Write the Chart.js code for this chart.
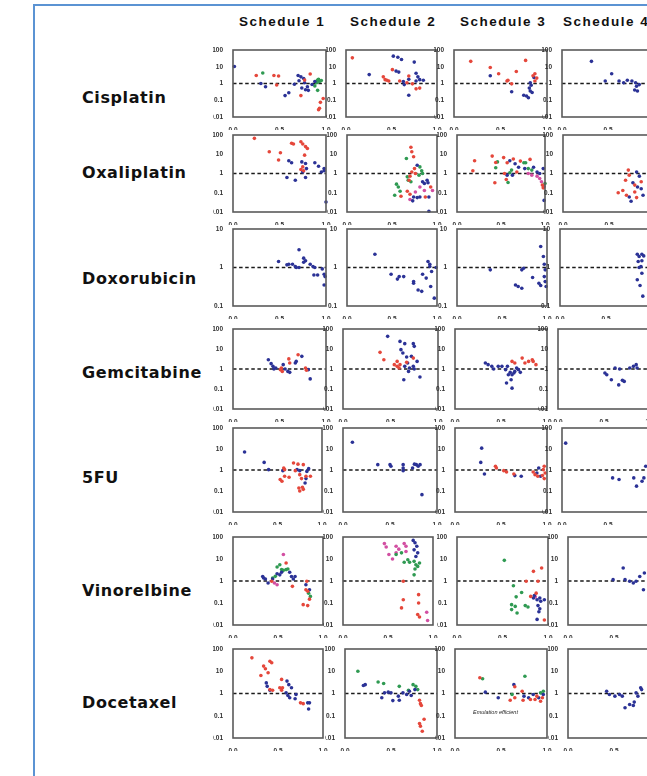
<!DOCTYPE html>
<html><head><meta charset="utf-8">
<script src="https://cdn.jsdelivr.net/npm/chart.js@4"></script>
<style>
html,body{margin:0;padding:0;width:647px;height:776px;overflow:hidden;background:#fff;}
#frame{position:absolute;left:33px;top:4px;width:720px;height:820px;border-left:2px solid #5b93d3;border-top:2px solid #5b93d3;}
.drug{position:absolute;left:82px;font:bold 16px "DejaVu Sans";letter-spacing:0.6px;color:#111;transform:translateY(-50%);white-space:nowrap;}
.sched{position:absolute;top:14px;font:bold 13.5px "Liberation Sans";letter-spacing:1.5px;color:#111;white-space:nowrap;}
canvas{position:absolute;}
.note{position:absolute;font:italic 5.5px "Liberation Sans";color:#222;white-space:nowrap;}
</style></head><body>
<div id="frame"></div>
<script>
// ---------------- data ----------------
const drugs = ["Cisplatin","Oxaliplatin","Doxorubicin","Gemcitabine","5FU","Vinorelbine","Docetaxel"];
const schedules = ["Schedule 1","Schedule 2","Schedule 3","Schedule 4"];
const xTickValues = [0, 0.5, 1];
const xTickLabels = ["0.0","0.5","1.0"];
const yTicksWide = [0.01, 0.1, 1, 10, 100];
const yTickLabelsWide = ["0.01","0.1","1","10","100"];
const yTicksNarrow = [0.1, 1, 10];
const yTickLabelsNarrow = ["0.1","1","10"];
const refRatio = 1;
const noteText = "Emulation efficient";

const cis_s1_blue = [[0.015,10.4],[0.30,1.0],[0.35,0.64],[0.56,0.19],[0.60,0.28],[0.70,3.0],[0.73,2.5],[0.76,2.0],[0.71,1.45],[0.74,0.54],[0.78,0.42],[0.80,0.64],[0.81,0.39],[0.85,0.88],[0.88,1.33],[0.66,0.9],[0.77,1.1]];
const cis_s1_red = [[0.25,3.0],[0.44,3.0],[0.49,2.8],[0.47,0.81],[0.73,0.19],[0.83,3.7],[0.77,1.6],[0.97,0.128],[0.94,0.075],[0.93,0.033],[0.92,0.027]];
const cis_s1_green = [[0.32,4.2],[0.89,1.33],[0.91,1.6],[0.93,1.33],[0.88,0.72],[0.91,0.39],[0.92,1.8],[0.95,1.5],[0.90,1.1]];
const cis_s2_red = [[0.07,34],[0.51,6.7],[0.41,2.5],[0.45,1.55],[0.47,1.4],[0.43,1.7],[0.59,1.4],[0.67,1.1],[0.69,2.8],[0.77,0.48],[0.81,0.53],[0.73,0.95]];
const cis_s2_blue = [[0.255,3.4],[0.52,43],[0.57,37],[0.61,27],[0.75,19],[0.55,5.5],[0.58,4.8],[0.63,1.3],[0.64,0.86],[0.69,1.8],[0.77,4.1],[0.79,2.5],[0.81,1.7],[0.85,1.55],[0.77,1.4],[0.69,0.2]];
const cis_s3_red = [[0.18,21],[0.39,9.1],[0.48,3.8],[0.57,1.4],[0.58,1.55],[0.67,5.2],[0.77,24],[0.62,0.95],[0.85,2.9],[0.87,3.8],[0.89,2.1],[0.87,1.4]];
const cis_s3_blue = [[0.39,2.9],[0.82,1.1],[0.81,0.53],[0.82,0.36],[0.84,0.29],[0.78,0.18],[0.75,0.2],[0.80,0.14],[0.62,0.32],[0.86,2.3],[0.83,0.78]];
const cis_s4_blue = [[0.32,21],[0.54,3.8],[0.47,1.4],[0.62,1.4],[0.71,1.55],[0.76,1.4],[0.80,1.1],[0.81,0.68],[0.79,0.41],[0.82,0.36],[0.84,0.86],[0.67,1.1]];

const oxa_s1_red = [[0.23,67],[0.39,13.5],[0.51,12],[0.49,5],[0.63,37],[0.65,34],[0.73,45],[0.75,34],[0.78,25],[0.80,20],[0.77,9],[0.75,2.2],[0.73,1.6],[0.76,1.4]];
const oxa_s1_blue = [[0.60,4.6],[0.63,3.6],[0.74,4.0],[0.78,3.3],[0.88,3.6],[0.92,2.4],[0.98,1.8],[0.95,1.2],[0.98,1.4],[0.58,0.62],[0.67,0.45],[0.78,0.62],[0.75,1.2],[0.79,1.8],[1.0,0.033]];
const oxa_s2_red = [[0.71,23],[0.72,13.5],[0.74,7.4],[0.72,1.2],[0.75,1.8],[0.76,1.0],[0.70,0.73],[0.69,0.45],[0.60,0.066],[0.67,0.12],[0.70,0.083],[0.93,0.2],[0.87,0.06]];
const oxa_s2_green = [[0.66,6],[0.81,2.2],[0.83,1.4],[0.84,1.0],[0.80,0.82],[0.67,0.67],[0.68,0.45],[0.71,0.37],[0.55,0.28],[0.57,0.2],[0.53,0.074],[0.59,0.12]];
const oxa_s2_blue = [[0.78,2.7],[0.84,0.37],[0.86,0.3],[0.89,0.45],[0.90,0.33],[0.74,0.06],[0.73,0.038],[0.78,0.056],[0.81,0.06],[0.91,0.06],[0.91,0.011]];
const oxa_s2_pink = [[0.95,0.13],[0.81,0.2],[0.86,0.13],[0.70,0.045],[0.76,0.11]];
const oxa_s3_red = [[0.20,4.6],[0.18,1.4],[0.40,8],[0.44,3.7],[0.43,0.33],[0.53,6.7],[0.57,3.6],[0.64,5.7],[0.54,1.0],[0.56,0.49],[0.68,1.2],[0.72,4.4],[0.83,5.4],[0.97,0.25],[0.98,0.18]];
const oxa_s3_green = [[0.46,4],[0.44,2],[0.58,0.34],[0.62,1.5],[0.60,1.1],[0.76,3.6],[0.78,3.6],[0.81,1.8],[0.85,1.5],[1.0,0.3]];
const oxa_s3_blue = [[0.60,4.6],[0.66,3.2],[0.57,0.82],[0.63,0.82],[0.70,2.1],[0.77,1.8],[0.87,2.1],[0.91,1.2],[0.94,1.0],[0.98,1.8],[0.99,0.04]];
const oxa_s3_pink = [[0.81,1.0],[0.85,0.82],[0.91,0.73],[0.94,0.55],[0.96,0.37],[0.99,0.21]];
const oxa_s4_red = [[0.71,1.5],[0.72,0.82],[0.68,0.45],[0.78,0.25],[0.85,0.37],[0.60,0.1],[0.65,0.13],[0.69,0.074],[0.78,0.11],[0.80,0.056]];
const oxa_s4_blue = [[0.80,1.2],[0.83,0.73],[0.76,0.33],[0.81,0.2],[0.72,0.06],[0.74,0.036],[0.85,0.16],[0.87,0.074]];

const dox_s1_blue = [[0.49,1.43],[0.58,1.17],[0.60,1.22],[0.64,1.22],[0.68,1.0],[0.71,1.0],[0.67,1.06],[0.71,2.9],[0.76,1.75],[0.78,1.5],[0.76,1.37],[0.83,1.22],[0.86,1.06],[0.88,1.0],[0.87,0.64],[0.91,0.64],[0.96,0.92],[0.98,0.67],[0.99,0.58],[0.98,0.35]];
const dox_s2_blue = [[0.31,2.2],[0.49,0.67],[0.56,0.5],[0.58,0.58],[0.63,0.58],[0.74,0.43],[0.74,0.39],[0.79,0.26],[0.83,0.24],[0.84,0.67],[0.88,0.53],[0.90,1.43],[0.92,1.22],[0.92,1.06],[0.94,0.79],[0.99,1.0],[0.93,0.32],[0.97,0.16]];
const dox_s3_blue = [[0.37,0.87],[0.72,0.87],[0.74,0.96],[0.65,0.35],[0.68,0.32],[0.72,0.29],[0.84,0.55],[0.91,0.39],[0.93,0.34],[0.93,3.5],[0.96,1.93],[0.97,1.22],[0.98,0.87],[0.97,0.58],[0.98,0.43],[0.99,0.32]];
const dox_s4_blue = [[0.84,2.2],[0.86,1.93],[0.89,2.2],[0.91,2.0],[0.85,1.43],[0.89,1.5],[0.88,1.06],[0.86,1.0],[0.84,0.48],[0.89,0.71],[0.87,0.34],[0.90,0.18]];

const gem_s1_blue = [[0.38,2.9],[0.41,1.85],[0.44,1.0],[0.46,1.12],[0.43,1.36],[0.54,1.65],[0.56,1.0],[0.59,0.76],[0.61,0.68],[0.67,2.0],[0.68,2.4],[0.74,4.3],[0.81,0.93],[0.83,0.32]];
const gem_s1_red = [[0.51,0.93],[0.53,0.76],[0.52,1.12],[0.60,3.2],[0.61,2.0],[0.70,5.2],[0.78,1.12],[0.79,0.86]];
const gem_s2_blue = [[0.47,43],[0.60,24],[0.65,18.5],[0.74,18.5],[0.75,13.6],[0.61,9.3],[0.63,6.3],[0.67,4],[0.72,4.3],[0.65,1.36],[0.68,2.0],[0.70,1.12],[0.69,0.76],[0.78,2.4],[0.74,1.36],[0.75,1.0],[0.64,0.29],[0.81,0.4]];
const gem_s2_red = [[0.39,6.8],[0.43,2.9],[0.67,2.15],[0.74,3.5],[0.57,2.4],[0.54,1.65],[0.57,1.36],[0.60,1.65],[0.59,1.12]];
const gem_s3_blue = [[0.33,2.0],[0.36,1.65],[0.40,1.36],[0.42,1.0],[0.47,1.36],[0.51,1.36],[0.55,0.93],[0.57,1.36],[0.60,0.68],[0.62,0.52],[0.64,0.63],[0.58,0.52],[0.56,0.2],[0.61,0.29],[0.62,0.11],[0.67,1.12],[0.71,0.68],[0.65,0.76],[0.69,0.93]];
const gem_s3_red = [[0.62,2.4],[0.65,2.0],[0.73,3.5],[0.76,2.0],[0.80,2.4],[0.84,2.9],[0.85,2.4],[0.88,1.65]];
const gem_s4_blue = [[0.51,0.63],[0.53,0.52],[0.58,0.29],[0.66,0.16],[0.70,0.27],[0.72,0.24],[0.78,1.12],[0.82,1.36],[0.85,1.65],[0.86,1.12],[0.62,1.12],[0.67,1.0]];

const fu_s1_blue = [[0.13,7.2],[0.35,2.3],[0.40,1.04],[0.56,0.93],[0.72,1.04],[0.75,0.93],[0.85,1.16],[0.83,0.86],[0.81,0.24],[0.82,0.39]];
const fu_s1_red = [[0.57,1.25],[0.58,1.04],[0.53,0.35],[0.55,0.29],[0.58,0.5],[0.63,0.45],[0.68,2.15],[0.73,1.9],[0.70,0.93],[0.79,1.8],[0.75,0.6],[0.77,0.39],[0.82,0.5],[0.87,0.5],[0.74,0.14],[0.75,0.1],[0.78,0.15],[0.79,0.12]];
const fu_s2_blue = [[0.10,21],[0.37,1.8],[0.50,1.8],[0.51,1.5],[0.64,1.8],[0.64,1.25],[0.64,0.93],[0.74,1.25],[0.76,1.9],[0.78,1.8],[0.80,1.5],[0.82,1.8],[0.84,0.067]];
const fu_s3_blue = [[0.29,11],[0.28,2.3],[0.32,0.65],[0.65,0.54],[0.72,0.5],[0.89,0.72],[0.91,1.25],[0.93,0.5]];
const fu_s3_red = [[0.44,1.5],[0.45,1.25],[0.53,0.93],[0.56,0.8],[0.64,0.65],[0.85,0.8],[0.87,0.6],[0.90,0.5],[0.96,1.04],[0.97,1.5],[0.98,0.72],[0.97,0.39],[0.95,0.55]];
const fu_s4_blue = [[0.04,19],[0.55,0.42],[0.62,0.35],[0.78,0.42],[0.81,0.17],[0.87,0.29],[0.89,0.42],[0.91,1.5]];

const vin_s1_blue = [[0.33,1.6],[0.36,1.23],[0.34,1.37],[0.39,0.81],[0.44,1.23],[0.52,1.9],[0.54,2.5],[0.49,2.15],[0.63,2.5],[0.65,1.6],[0.67,1.23],[0.69,1.6],[0.81,0.68],[0.85,0.4]];
const vin_s1_red = [[0.43,0.97],[0.59,6.6],[0.66,0.57],[0.82,0.97],[0.81,0.4],[0.83,0.34],[0.78,0.084],[0.83,0.076],[0.85,0.15]];
const vin_s1_green = [[0.44,1.37],[0.47,1.63],[0.49,4.3],[0.52,5.5],[0.54,3.3],[0.56,3.05],[0.59,3.3],[0.61,3.5],[0.84,0.28],[0.86,0.2]];
const vin_s1_pink = [[0.46,0.81],[0.49,0.68],[0.56,16]];
const vin_s2_pink = [[0.46,50],[0.48,35],[0.51,16],[0.55,10],[0.59,38],[0.62,28],[0.59,19],[0.68,50],[0.70,38],[0.70,22],[0.93,0.038],[0.94,0.016]];
const vin_s2_green = [[0.59,16],[0.65,19],[0.68,7.1],[0.72,9.3],[0.74,7.1],[0.79,7.8],[0.81,5.5],[0.83,4.6],[0.85,6.6],[0.80,3.5],[0.79,1.9]];
const vin_s2_blue = [[0.78,70],[0.80,55],[0.82,38],[0.79,26],[0.83,19],[0.81,13]];
const vin_s2_red = [[0.67,0.97],[0.67,0.14],[0.65,0.06],[0.84,0.24],[0.83,0.03],[0.85,0.023],[0.84,0.1]];
const vin_s3_green = [[0.52,8.7],[0.62,0.61],[0.71,0.3],[0.65,0.19],[0.60,0.084],[0.60,0.05],[0.64,0.07],[0.66,0.035],[0.75,0.076],[0.78,0.066]];
const vin_s3_red = [[0.84,2.75],[0.93,3.9],[0.76,0.97],[0.89,0.97],[0.81,0.2],[0.87,0.28],[0.96,0.017]];
const vin_s3_blue = [[0.84,0.17],[0.85,0.22],[0.88,0.14],[0.91,0.17],[0.92,0.12],[0.96,0.14],[0.89,0.076],[0.91,0.055],[0.90,0.04],[0.88,0.018]];
const vin_s3_pink = [[0.86,0.19]];
const vin_s4_blue = [[0.60,3.9],[0.62,1.15],[0.49,1.15],[0.67,0.97],[0.71,0.81],[0.74,0.97],[0.82,0.4],[0.78,1.6],[0.83,2.3]];

const doc_s1_red = [[0.21,40],[0.31,6.4],[0.34,17],[0.36,13],[0.39,8.5],[0.41,28],[0.43,24],[0.41,1.5],[0.44,1.4],[0.54,4.3],[0.52,1.8],[0.55,1.8],[0.54,1.4],[0.75,0.38],[0.78,0.35]];
const doc_s1_blue = [[0.37,3.0],[0.38,2.1],[0.41,1.4],[0.59,1.07],[0.61,0.81],[0.63,0.64],[0.60,3.6],[0.62,2.5],[0.65,1.8],[0.69,0.58],[0.70,0.9],[0.83,0.38],[0.85,0.38],[0.84,0.2]];
const doc_s2_green = [[0.14,10],[0.36,3.3],[0.42,2.8],[0.59,2.1],[0.69,1.4],[0.74,2.5],[0.77,2.1],[0.79,1.5]];
const doc_s2_blue = [[0.22,2.5],[0.20,2.3],[0.40,0.64],[0.43,1.07],[0.47,1.15],[0.50,1.07],[0.52,0.48],[0.58,0.76],[0.59,0.5],[0.63,1.07],[0.67,0.9],[0.70,1.27],[0.72,0.81],[0.76,1.5]];
const doc_s2_red = [[0.81,0.5],[0.82,0.35],[0.83,0.29],[0.81,0.045],[0.82,0.034],[0.84,0.02],[0.86,0.07]];
const doc_s3_red = [[0.27,5.1],[0.65,2.0],[0.60,0.5],[0.65,0.64],[0.73,1.27],[0.74,0.5],[0.82,0.54],[0.87,0.54],[0.89,0.76],[0.93,0.45],[0.95,0.64]];
const doc_s3_green = [[0.30,4.6],[0.62,0.9],[0.76,6.0],[0.93,1.07],[0.96,1.27]];
const doc_s3_blue = [[0.33,1.15],[0.47,0.64],[0.64,2.5],[0.75,0.76],[0.80,0.64],[0.85,0.9],[0.91,0.64],[0.96,0.9]];
const doc_s4_blue = [[0.42,1.27],[0.45,0.9],[0.51,0.76],[0.56,0.9],[0.59,0.76],[0.62,0.23],[0.67,0.32],[0.71,0.29],[0.72,0.41],[0.74,1.07],[0.76,0.76],[0.79,1.8],[0.80,1.5]];

const panels = [
  [{blue:cis_s1_blue,red:cis_s1_red,green:cis_s1_green},{red:cis_s2_red,blue:cis_s2_blue},{red:cis_s3_red,blue:cis_s3_blue},{blue:cis_s4_blue}],
  [{red:oxa_s1_red,blue:oxa_s1_blue},{red:oxa_s2_red,green:oxa_s2_green,blue:oxa_s2_blue,pink:oxa_s2_pink},{red:oxa_s3_red,green:oxa_s3_green,blue:oxa_s3_blue,pink:oxa_s3_pink},{red:oxa_s4_red,blue:oxa_s4_blue}],
  [{blue:dox_s1_blue},{blue:dox_s2_blue},{blue:dox_s3_blue},{blue:dox_s4_blue}],
  [{blue:gem_s1_blue,red:gem_s1_red},{blue:gem_s2_blue,red:gem_s2_red},{blue:gem_s3_blue,red:gem_s3_red},{blue:gem_s4_blue}],
  [{blue:fu_s1_blue,red:fu_s1_red},{blue:fu_s2_blue},{blue:fu_s3_blue,red:fu_s3_red},{blue:fu_s4_blue}],
  [{blue:vin_s1_blue,red:vin_s1_red,green:vin_s1_green,pink:vin_s1_pink},{pink:vin_s2_pink,green:vin_s2_green,blue:vin_s2_blue,red:vin_s2_red},{green:vin_s3_green,red:vin_s3_red,blue:vin_s3_blue,pink:vin_s3_pink},{blue:vin_s4_blue}],
  [{red:doc_s1_red,blue:doc_s1_blue},{green:doc_s2_green,blue:doc_s2_blue,red:doc_s2_red},{red:doc_s3_red,green:doc_s3_green,blue:doc_s3_blue},{blue:doc_s4_blue}]
];

// ---------------- layout / style ----------------
const colors = {red:'#e5473b', blue:'#2b3296', green:'#2f9a52', pink:'#d24fa2'};
const rowTop = [50,135,229,329,428,537,649];
const rowBot = [117,212,306,409,512,625,738];
const boxL = [[233,346,454,562],[233,347,457,563],[233,347,457,560],[233,343,455,558],[233,343,455,562],[233,343,457,568],[233,345,455,568]];
const boxR = [[326,437,547,654],[326,437,545,655],[326,437,547,652],[326,438,547,650],[322,437,547,654],[323,433,548,660],[323,437,547,660]];
const drugY = [97,172,278,372,477,590,702];
const schedX = [239,350,460,563];

drugs.forEach((d,i)=>{const el=document.createElement('div');el.className='drug';el.style.top=drugY[i]+'px';el.textContent=d;document.body.appendChild(el);});
schedules.forEach((s,i)=>{const el=document.createElement('div');el.className='sched';el.style.left=schedX[i]+'px';el.textContent=s;document.body.appendChild(el);});
const note=document.createElement('div');note.className='note';note.style.left='473px';note.style.top='709px';note.textContent=noteText;

const boxPlugin = {id:'box', afterDatasetsDraw(chart){const {ctx,chartArea:a}=chart;ctx.save();ctx.strokeStyle='#5a5a5a';ctx.lineWidth=1.6;ctx.strokeRect(a.left,a.top,a.right-a.left,a.bottom-a.top);ctx.restore();}};

const yAxW=20, xAxH=13, padT=6, padR=8;
function build(r,c,W,H){
  const series=panels[r][c];
  const narrow = (r===2);
  const yT = narrow?yTicksNarrow:yTicksWide, yL = narrow?yTickLabelsNarrow:yTickLabelsWide;
  const cv=document.createElement('canvas');
  cv.width=W; cv.height=H; cv.style.width=W+'px'; cv.style.height=H+'px';
  document.body.appendChild(cv);
  const datasets=[];
  Object.keys(colors).forEach(k=>{ if(series[k]) datasets.push({type:'scatter',data:series[k].map(p=>({x:p[0],y:p[1]})),backgroundColor:colors[k],borderColor:colors[k],pointRadius:1.8,pointBorderWidth:0,clip:4,order:1}); });
  datasets.push({type:'line',data:[{x:xTickValues[0],y:refRatio},{x:xTickValues[2],y:refRatio}],borderColor:'#1a1a1a',borderWidth:1.4,borderDash:[3.5,2.6],pointRadius:0,fill:false,order:5});
  const tf={size:6.5,weight:'bold',family:'Liberation Sans'};
  const chart=new Chart(cv,{type:'scatter',data:{datasets},plugins:[boxPlugin],options:{
    responsive:false,maintainAspectRatio:false,animation:false,events:[],
    plugins:{legend:{display:false},tooltip:{enabled:false}},
    layout:{padding:{top:padT,right:padR,left:0,bottom:0}},
    scales:{
      x:{type:'linear',min:0,max:1,afterBuildTicks:s=>{s.ticks=xTickValues.map(v=>({value:v}));},afterFit:s=>{s.height=xAxH;},
         ticks:{callback:(v,i)=>xTickLabels[i],font:tf,color:'#333',padding:1,maxRotation:0,autoSkip:false},grid:{display:false},border:{display:false}},
      y:{type:'logarithmic',min:yT[0],max:yT[yT.length-1],afterBuildTicks:s=>{s.ticks=yT.map(v=>({value:v}));},afterFit:s=>{s.width=yAxW;},
         ticks:{callback:(v,i)=>yL[i],font:tf,color:'#333',padding:2,autoSkip:false},grid:{display:false},border:{display:false}}
    }}});
  return {chart,cv};
}
for(let r=0;r<7;r++)for(let c=0;c<4;c++){
  const L=boxL[r][c],R=boxR[r][c],T=rowTop[r],B=rowBot[r];
  let W=(R-L)+yAxW+padR, H=(B-T)+padT+xAxH;
  let o=build(r,c,W,H);
  let a=o.chart.chartArea;
  const dw=(R-L)-(a.right-a.left), dh=(B-T)-(a.bottom-a.top);
  if(Math.abs(dw)>0.5||Math.abs(dh)>0.5){o.chart.destroy();o.cv.remove();o=build(r,c,Math.round(W+dw),Math.round(H+dh));a=o.chart.chartArea;}
  o.cv.style.left=Math.round(L-a.left)+'px'; o.cv.style.top=Math.round(T-a.top)+'px';
}
document.body.appendChild(note);
</script>
</body></html>
